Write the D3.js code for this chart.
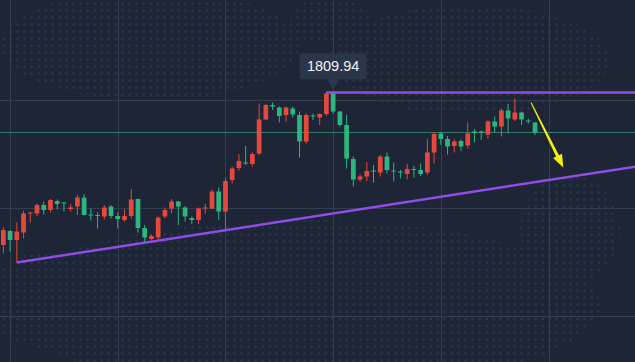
<!DOCTYPE html>
<html>
<head>
<meta charset="utf-8">
<script src="https://cdn.jsdelivr.net/npm/d3@7"></script>
<style>
  html, body { margin: 0; padding: 0; background: #1e2537; overflow: hidden; }
</style>
</head>
<body>
<script>
// candle values (red = up, green = down)
const opens  = [1779.2,1782.0,1780.2,1781.7,1785.5,1785.5,1787.2,1786.2,1788.0,1787.7,
                1786.4,1786.9,1788.7,1785.3,1785.2,1784.9,1786.9,1785.0,1784.2,1785.0,
                1788.4,1782.6,1780.4,1780.7,1784.9,1786.5,1787.9,1786.7,1784.6,1784.2,
                1786.5,1786.5,1789.9,1785.9,1792.2,1794.6,1795.7,1795.4,1797.5,1804.3,
                1807.2,1806.7,1805.2,1806.5,1805.2,1799.9,1805.1,1804.7,1805.4,1809.8,
                1805.9,1803.2,1796.4,1792.3,1792.9,1794.1,1793.7,1796.9,1794.1,1793.9,
                1793.4,1794.4,1794.2,1793.7,1797.7,1801.5,1800.4,1799.0,1800.0,1799.1,
                1801.9,1801.9,1801.3,1803.9,1802.9,1806.1,1804.3,1805.7,1804.1,1803.7];
const highs  = [1782.8,1782.2,1783.7,1786.1,1785.8,1787.5,1787.9,1788.4,1788.3,1787.8,
                1787.4,1789.2,1789.4,1786.5,1785.7,1787.2,1787.2,1785.7,1786.3,1790.4,
                1788.5,1783.2,1781.3,1784.9,1786.7,1788.4,1788.0,1787.0,1784.9,1786.7,
                1787.5,1790.3,1790.7,1792.6,1794.9,1797.4,1799.0,1797.7,1807.5,1807.4,
                1807.7,1806.9,1806.9,1806.9,1805.9,1805.5,1805.5,1805.5,1809.9,1809.94,
                1806.0,1805.2,1796.9,1793.3,1795.8,1795.2,1797.2,1797.7,1795.7,1794.2,
                1795.4,1795.0,1795.5,1800.5,1801.7,1801.8,1801.0,1800.3,1800.3,1803.7,
                1802.4,1802.1,1804.2,1804.9,1806.5,1807.4,1808.5,1805.9,1804.5,1803.8];
const lows   = [1777.5,1777.9,1775.7,1780.5,1783.7,1785.0,1785.3,1785.7,1786.3,1785.9,
                1785.9,1785.2,1785.1,1784.1,1782.5,1784.3,1784.5,1782.5,1783.9,1784.5,
                1781.7,1779.8,1780.2,1780.2,1784.5,1785.5,1783.2,1783.9,1783.4,1783.4,
                1785.5,1786.4,1784.2,1782.4,1791.5,1794.1,1795.2,1794.9,1797.2,1804.2,
                1806.2,1803.7,1803.9,1804.7,1796.7,1799.5,1804.2,1803.2,1805.0,1805.5,
                1802.9,1794.5,1790.9,1791.9,1792.0,1791.7,1792.9,1793.5,1791.9,1792.5,
                1792.3,1792.7,1793.0,1793.2,1795.5,1799.2,1797.3,1797.7,1798.0,1798.5,
                1799.7,1800.2,1800.5,1801.7,1800.9,1801.5,1804.0,1803.2,1803.5,1801.2];
const closes = [1782.2,1780.2,1781.9,1785.5,1785.7,1787.2,1786.2,1788.2,1787.4,1787.5,
                1786.7,1788.7,1785.2,1785.1,1785.0,1786.7,1785.0,1784.4,1785.0,1788.3,
                1782.6,1780.7,1781.0,1784.7,1786.2,1787.9,1786.9,1784.9,1784.2,1786.5,
                1786.7,1789.9,1785.9,1792.0,1794.5,1796.0,1795.5,1797.4,1804.3,1807.2,
                1806.9,1805.0,1806.7,1805.3,1799.9,1805.2,1804.9,1805.4,1809.5,1805.9,
                1803.2,1796.5,1792.3,1792.9,1794.0,1793.9,1796.9,1794.2,1793.9,1793.7,
                1794.4,1794.2,1793.4,1797.7,1801.4,1800.4,1798.9,1799.9,1798.9,1801.5,
                1801.6,1801.6,1803.9,1802.9,1806.1,1804.5,1805.7,1804.3,1803.9,1801.7];

const gridBars = [1, 17, 33, 49, 65, 81];
const gridPrices = [1765.0, 1786.6, 1808.2];
const peakIndex = 49;
const peakLabel = "1809.94";
const resistance = [[48, 1809.7], [94, 1809.7]];
const support = [[2, 1775.7], [94, 1794.9]];
const arrowPts = [[78.4, 1807.7], [83.2, 1794.7]];

const width = 635, height = 362;

const candles = opens.map((o, i) => ({
  i: i, open: o, high: highs[i], low: lows[i], close: closes[i]
}));

const x = d3.scaleLinear().domain([-0.5, 93.85]).range([0, width]);
const y = d3.scaleLinear().domain([1760, 1828.2]).range([341, 0]);
const barW = (x(1) - x(0)) * 0.7;

const svg = d3.select("body").append("svg")
    .attr("width", width)
    .attr("height", height)
    .style("display", "block");

svg.append("rect").attr("width", width).attr("height", height).attr("fill", "#1e2537");

// dotted map texture
const defs = svg.append("defs");
const pat = defs.append("pattern")
    .attr("id", "dots")
    .attr("patternUnits", "userSpaceOnUse")
    .attr("width", 7).attr("height", 7);
pat.append("rect").attr("x", 2.2).attr("y", 2.2).attr("width", 2.8).attr("height", 2.8)
    .attr("rx", 1).attr("fill", "#293247");

const clip = defs.append("clipPath").attr("id", "land");
[[150, 45, 150, 55], [300, 305, 300, 85], [470, 60, 140, 55], [570, 230, 50, 55], [60, 300, 80, 50], [330, 20, 40, 25]]
  .forEach(e => clip.append("ellipse").attr("cx", e[0]).attr("cy", e[1]).attr("rx", e[2]).attr("ry", e[3]));

svg.append("rect")
    .attr("width", width).attr("height", height)
    .attr("fill", "url(#dots)")
    .attr("clip-path", "url(#land)");

// grid
svg.append("g").selectAll("line")
  .data(gridBars)
  .join("line")
    .attr("x1", d => Math.round(x(d)) + 0.5).attr("x2", d => Math.round(x(d)) + 0.5)
    .attr("y1", 0).attr("y2", height)
    .attr("stroke", "#343d50").attr("stroke-width", 1);

svg.append("g").selectAll("line")
  .data(gridPrices)
  .join("line")
    .attr("x1", 0).attr("x2", width)
    .attr("y1", d => Math.round(y(d)) + 0.5).attr("y2", d => Math.round(y(d)) + 0.5)
    .attr("stroke", "#343d50").attr("stroke-width", 1);

// last price line
const last = closes[closes.length - 1];
svg.append("line")
    .attr("x1", 0).attr("x2", width)
    .attr("y1", y(last)).attr("y2", y(last))
    .attr("stroke", "#2f7d69").attr("stroke-width", 1);

// candles
const up = "#e5483d", down = "#2db57f";
const g = svg.append("g");
g.selectAll(".wick")
  .data(candles)
  .join("line")
    .attr("class", "wick")
    .attr("x1", d => x(d.i)).attr("x2", d => x(d.i))
    .attr("y1", d => y(d.high)).attr("y2", d => y(d.low))
    .attr("stroke", d => d.close >= d.open ? up : down)
    .attr("stroke-width", 1);

g.selectAll(".body")
  .data(candles)
  .join("rect")
    .attr("class", "body")
    .attr("x", d => x(d.i) - barW / 2)
    .attr("width", barW)
    .attr("y", d => y(Math.max(d.open, d.close)))
    .attr("height", d => Math.max(1, Math.abs(y(d.open) - y(d.close))))
    .attr("fill", d => d.close >= d.open ? up : down);

// trend lines
const line = d3.line().x(d => x(d[0])).y(d => y(d[1]));
[resistance, support].forEach(pts => {
  svg.append("path")
      .attr("d", line(pts))
      .attr("fill", "none")
      .attr("stroke", "#8f4ce6")
      .attr("stroke-width", 2.5);
});

// yellow arrow (tapered)
const ax0 = x(arrowPts[0][0]), ay0 = y(arrowPts[0][1]);
const ax1 = x(arrowPts[1][0]), ay1 = y(arrowPts[1][1]);
const len = Math.hypot(ax1 - ax0, ay1 - ay0);
const ux = (ax1 - ax0) / len, uy = (ay1 - ay0) / len;
const nx = -uy, ny = ux;
const headL = 13, headW = 5;
const bx = ax1 - ux * headL, by = ay1 - uy * headL;
const arrow = [
  [ax0 + nx * 0.5, ay0 + ny * 0.5],
  [bx + nx * 1.6, by + ny * 1.6],
  [bx + nx * headW, by + ny * headW],
  [ax1, ay1],
  [bx - nx * headW, by - ny * headW],
  [bx - nx * 1.6, by - ny * 1.6],
  [ax0 - nx * 0.5, ay0 - ny * 0.5]
];
svg.append("path")
    .attr("d", "M" + arrow.map(p => p.join(",")).join("L") + "Z")
    .attr("fill", "#f4f112");

// peak label
const px = x(peakIndex), py = y(highs[peakIndex]) - 1;
const lab = svg.append("g");
const boxW = 67, boxH = 26, boxY = py - 37;
lab.append("rect")
    .attr("x", px - boxW / 2).attr("y", boxY)
    .attr("width", boxW).attr("height", boxH)
    .attr("rx", 3)
    .attr("fill", "#2c364a");
lab.append("path")
    .attr("d", `M${px - 6},${boxY + boxH}L${px},${py}L${px + 6},${boxY + boxH}Z`)
    .attr("fill", "#2c364a");
lab.append("text")
    .attr("x", px).attr("y", boxY + 18)
    .attr("text-anchor", "middle")
    .attr("font-family", "'Liberation Sans', Arial, sans-serif")
    .attr("font-size", 14.5)
    .attr("fill", "#eef1f6")
    .text(peakLabel);
</script>
</body>
</html>
